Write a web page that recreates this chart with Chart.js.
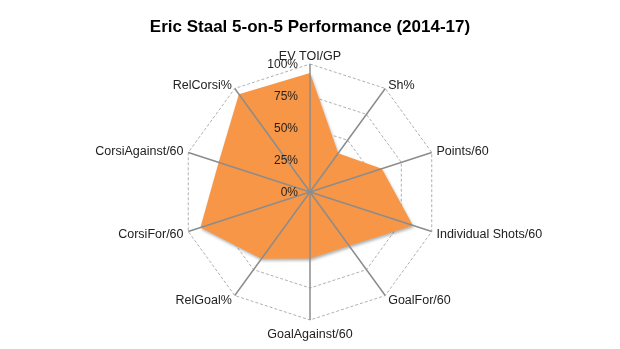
<!DOCTYPE html>
<html>
<head>
<meta charset="utf-8">
<script src="https://cdn.jsdelivr.net/npm/chart.js@4"></script>
<style>
  html, body { margin: 0; padding: 0; background: #fff; }
  #wrap { width: 620px; height: 349px; }
</style>
</head>
<body>
<div id="wrap"><canvas id="radar"></canvas></div>
<script>
const FONT = '"Liberation Sans", Arial, Helvetica, sans-serif';

const categories = ['EV TOI/GP', 'Sh%', 'Points/60', 'Individual Shots/60', 'GoalFor/60',
  'GoalAgainst/60', 'RelGoal%', 'CorsiFor/60', 'CorsiAgainst/60', 'RelCorsi%'];
const percentile = [93, 37.5, 59, 84.5, 52, 52, 64.5, 90, 75, 94.5];
const tickValues = [0, 25, 50, 75, 100];
const tickLabels = ['0%', '25%', '50%', '75%', '100%'];

// soft shadow under the filled area
const shadowFill = {
  id: 'shadowFill',
  beforeDatasetsDraw(chart) {
    const ctx = chart.ctx;
    ctx.save();
    ctx.shadowColor = 'rgba(0,0,0,0.3)';
    ctx.shadowBlur = 3;
    ctx.shadowOffsetX = 1;
    ctx.shadowOffsetY = 2;
  },
  afterDatasetsDraw(chart) {
    chart.ctx.restore();
  }
};

// spokes sit on top of the fill, then tick and category text
const overlay = {
  id: 'overlay',
  afterDatasetsDraw(chart) {
    const scale = chart.scales.r;
    const ctx = chart.ctx;
    const cx = scale.xCenter, cy = scale.yCenter;
    ctx.save();
    ctx.strokeStyle = '#8c8c8c';
    ctx.lineWidth = 1.5;
    categories.forEach((_, i) => {
      const p = scale.getPointPosition(i, scale.drawingArea);
      ctx.beginPath();
      ctx.moveTo(cx, cy);
      ctx.lineTo(p.x, p.y);
      ctx.stroke();
    });

    ctx.fillStyle = '#222';
    ctx.font = '12px ' + FONT;
    ctx.textAlign = 'right';
    ctx.textBaseline = 'middle';
    tickValues.forEach((v, i) => {
      const d = scale.getDistanceFromCenterForValue(v);
      ctx.fillText(tickLabels[i], cx - 12, cy - d + 1);
    });

    ctx.font = '12.5px ' + FONT;
    const n = categories.length;
    categories.forEach((label, i) => {
      const p = scale.getPointPosition(i, scale.drawingArea + 5);
      if (i === 0) {
        ctx.textAlign = 'center';
        ctx.textBaseline = 'alphabetic';
        ctx.fillText(label, p.x, p.y + 1);
      } else if (i === n / 2) {
        ctx.textAlign = 'center';
        ctx.textBaseline = 'alphabetic';
        ctx.fillText(label, p.x, p.y + 13);
      } else {
        ctx.textAlign = i < n / 2 ? 'left' : 'right';
        ctx.textBaseline = 'middle';
        ctx.fillText(label, p.x, p.y + 1);
      }
    });
    ctx.restore();
  }
};

new Chart(document.getElementById('radar'), {
  type: 'radar',
  data: {
    labels: categories,
    datasets: [{
      data: percentile,
      backgroundColor: '#f79646',
      borderWidth: 0,
      fill: true,
      pointRadius: 0
    }]
  },
  options: {
    responsive: true,
    maintainAspectRatio: false,
    animation: false,
    layout: { padding: { top: 0, bottom: 29, left: 0, right: 0 } },
    plugins: {
      legend: { display: false },
      tooltip: { enabled: false },
      title: {
        display: true,
        text: 'Eric Staal 5-on-5 Performance (2014-17)',
        color: '#000',
        font: { family: FONT, size: 17, weight: 'bold' },
        padding: { top: 17, bottom: 26.6 }
      }
    },
    scales: {
      r: {
        min: 0,
        max: 100,
        ticks: { display: false, stepSize: 25 },
        pointLabels: { display: false },
        angleLines: { display: false },
        grid: { color: '#b0b0b0', lineWidth: 1 },
        border: { dash: [3, 2] }
      }
    }
  },
  plugins: [shadowFill, overlay]
});
</script>
</body>
</html>
